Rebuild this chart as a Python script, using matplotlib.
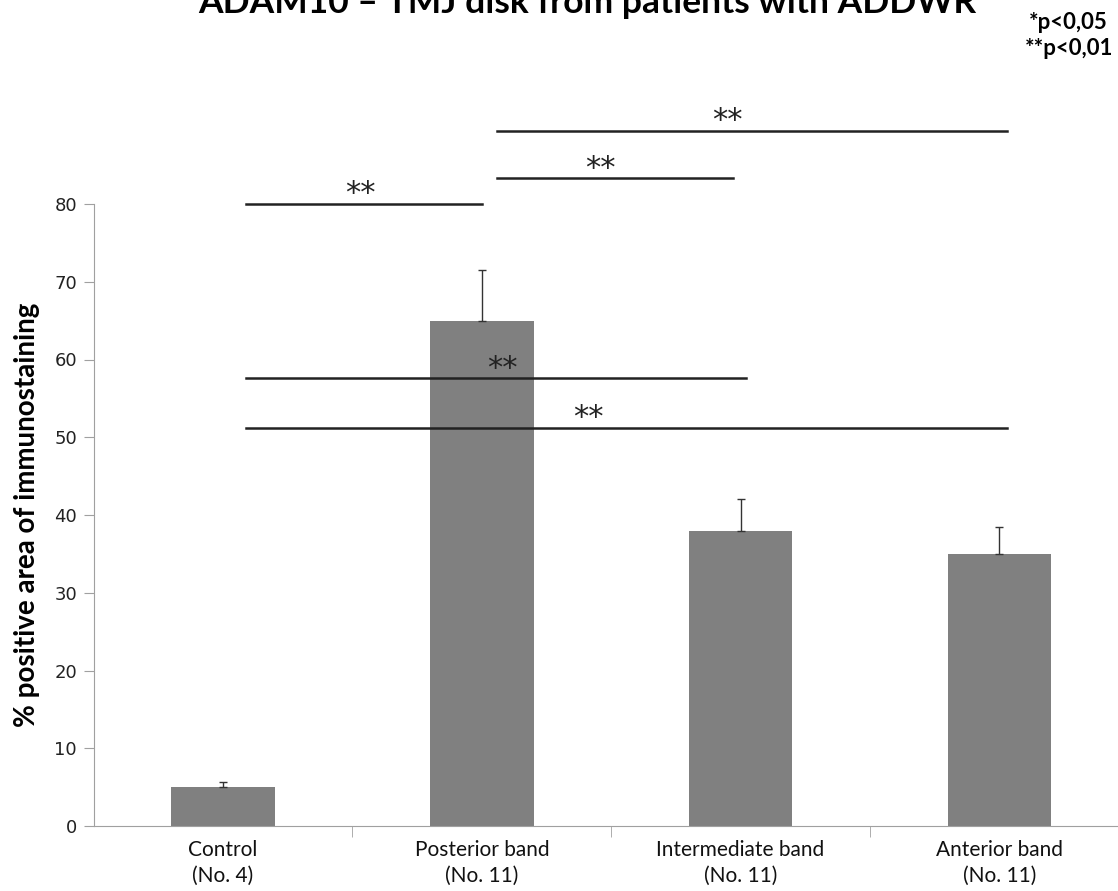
import matplotlib
matplotlib.use("Agg")
import matplotlib.pyplot as plt

# data
groups = ["Control\n(No. 4)", "Posterior band\n(No. 11)",
          "Intermediate band\n(No. 11)", "Anterior band\n(No. 11)"]
means = [5, 65, 38, 35]
errs = [0.6, 6.5, 4.0, 3.5]

# significance bars: (x start, x end, y level, star x)
sig_x0 = [0.09, 1.06, 1.06, 0.09, 0.09]
sig_x1 = [1.0, 1.97, 3.03, 2.02, 3.03]
sig_y = [80.0, 83.3, 89.4, 57.6, 51.2]
sig_star_x = [0.53, 1.46, 1.95, 1.08, 1.41]
sig_label = ["**", "**", "**", "**", "**"]

fig = plt.figure(figsize=(11.18, 8.91), dpi=100)
ax = fig.add_axes([93.7 / 1118, 65 / 891, 1035 / 1118, 622 / 891])

x = range(len(groups))
ax.bar(x, means, width=0.4, color="#808080", zorder=2)
ax.errorbar(x, means, yerr=[[0] * len(errs), errs], fmt="none",
            ecolor="#333333", elinewidth=1, capsize=3, capthick=1, zorder=3)

for x0, x1, y, sx, lab in zip(sig_x0, sig_x1, sig_y, sig_star_x, sig_label):
    ax.plot([x0, x1], [y, y], color="#222222", lw=1.8, clip_on=False, zorder=4)
    ax.text(sx, y + 0.2, lab, ha="center", va="baseline", fontsize=22,
            family="DejaVu Sans", color="#222222", clip_on=False, zorder=5)

ax.set_xlim(-0.5, 3.5)
ax.set_ylim(0, 80)
ax.set_yticks(range(0, 81, 10))
ax.set_xticks(list(x))
ax.set_xticklabels(groups, family="Lato", fontsize=15,
                   color="#111111", linespacing=1.35)
ax.set_xticks([0.5, 1.5, 2.5], minor=True)
ax.tick_params(axis="x", which="major", length=0, pad=10)
ax.tick_params(axis="x", which="minor", length=8, color="#a0a0a0")
ax.tick_params(axis="y", length=7, color="#a0a0a0", labelsize=13,
               labelcolor="#222222", pad=5)

for s in ["top", "right"]:
    ax.spines[s].set_visible(False)
for s in ["left", "bottom"]:
    ax.spines[s].set_color("#a0a0a0")

ax.set_ylabel("% positive area of immunostaining", family="Lato",
              fontweight="bold", fontsize=20, labelpad=10)

fig.text(587 / 1118, 1 - 13 / 891, "ADAM10 \u2013 TMJ disk from patients with ADDWR",
         ha="center", va="baseline", family="Lato", fontweight="bold",
         fontsize=25.5)
fig.text(1108 / 1118, 1 - 29 / 891, "*p<0,05", ha="right", va="baseline",
         family="Lato", fontweight="bold", fontsize=16)
fig.text(1113 / 1118, 1 - 55 / 891, "**p<0,01", ha="right", va="baseline",
         family="Lato", fontweight="bold", fontsize=16)

fig.savefig("out.png", dpi=100)
